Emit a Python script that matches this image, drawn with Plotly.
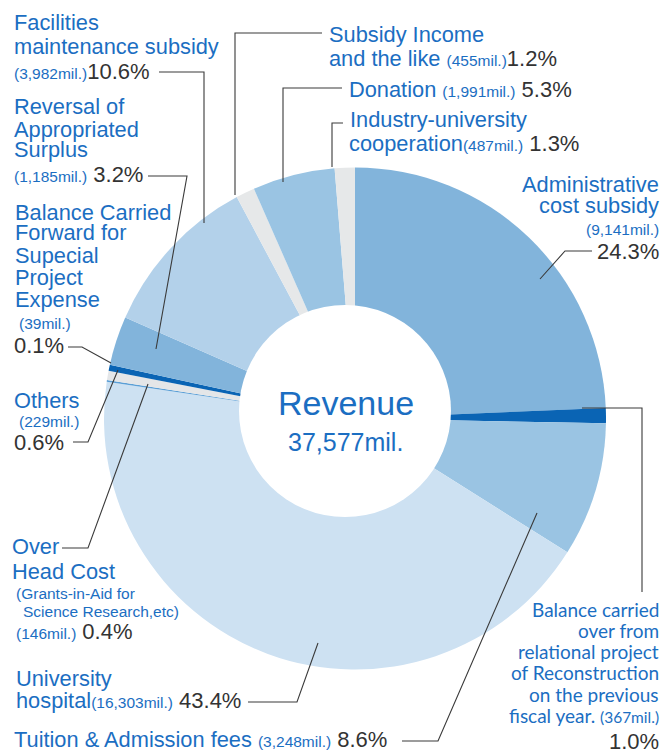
import plotly.graph_objects as go

W, H = 667, 751

# ---- data (clockwise from 12 o'clock) ----
categories = [
    "Administrative cost subsidy",
    "Balance carried over from relational project of Reconstruction on the previous fiscal year.",
    "Tuition & Admission fees",
    "University hospital",
    "Balance Carried Forward for Supecial Project Expense",
    "Others",
    "Over Head Cost",
    "Reversal of Appropriated Surplus",
    "Facilities maintenance subsidy",
    "Subsidy Income and the like",
    "Donation",
    "Industry-university cooperation",
]
values_mil = [9141, 367, 3248, 16303, 39, 229, 146, 1185, 3982, 455, 1991, 487]
percents = ["24.3%", "1.0%", "8.6%", "43.4%", "0.1%", "0.6%", "0.4%", "3.2%", "10.6%", "1.2%", "5.3%", "1.3%"]
total_label = "37,577mil."

slice_colors = ["#82b4db", "#0a64b4", "#9ac4e3", "#cde1f2", "#5b9fd6", "#e4e6e8",
                "#0a64b4", "#82b4db", "#b3d1ea", "#e6e8e9", "#9ac4e3", "#e6e8e9"]

BLUE = "#1b6ec2"
DARK = "#333333"
FONT = "Liberation Sans, Arial, sans-serif"

fig = go.Figure(go.Pie(
    labels=categories, values=values_mil, sort=False, direction="clockwise",
    rotation=0, hole=0, marker=dict(colors=slice_colors, line=dict(width=0)),
    textinfo="none", hoverinfo="label+value+percent", showlegend=False,
    domain=dict(x=[(355 - 251) / W, (355 + 251) / W],
                y=[1 - (418.5 + 251) / H, 1 - (418.5 - 251) / H]),
))


def px(x, y):
    return x / W, 1 - y / H


annotations = []


def SM(t):
    return f"<span style='font-size:15.5px'>{t}</span>"


def PC(t):
    return f"<span style='font-size:22px;color:{DARK}'>{t}</span>"


def T(x, y, text, anchor="left", size=21.8, family=FONT, color=BLUE):
    ax, ay = px(x, y)
    annotations.append(dict(x=ax, y=ay, xref="paper", yref="paper", text=text,
                            showarrow=False, xanchor=anchor, yanchor="middle",
                            align=anchor, font=dict(size=size, family=family, color=color)))


val = {c: f"({v:,}mil.)" for c, v in zip(categories, values_mil)}
pc = dict(zip(categories, percents))
c = categories

# left column
T(12, 22, "Facilities")
T(12, 46, "maintenance subsidy")
T(12, 71, SM(val[c[8]]) + PC(pc[c[8]]))
T(12, 106, "Reversal of")
T(12, 129, "Appropriated")
T(12, 150, "Surplus")
T(12, 175, SM(val[c[7]]) + " " + PC(pc[c[7]]))
T(13, 212, "Balance Carried")
T(13, 233, "Forward for")
T(13, 255, "Supecial")
T(13, 277, "Project")
T(13, 299, "Expense")
T(17, 323, SM(val[c[4]]))
T(12, 346, PC(pc[c[4]]))
T(12, 400, "Others")
T(17, 421, SM(val[c[5]]))
T(12, 442, PC(pc[c[5]]))
T(10, 546, "Over")
T(10, 571, "Head Cost")
T(14, 593, SM("(Grants-in-Aid for"))
T(21, 611, SM("Science Research,etc)"))
T(14, 631, SM(val[c[6]]) + " " + PC(pc[c[6]]))
T(14, 678, "University")
T(14, 700, "hospital" + SM(val[c[3]]) + " " + PC(pc[c[3]]))
T(12, 739, "Tuition &amp; Admission fees " + SM(val[c[2]]) + " " + PC(pc[c[2]]))

# top right
T(327, 34, "Subsidy Income")
T(327, 58, "and the like " + SM(val[c[9]]) + PC(pc[c[9]]))
T(347, 89, "Donation " + SM(val[c[10]]) + " " + PC(pc[c[10]]))
T(348, 120, "Industry-university")
T(347, 144, "cooperation" + SM(val[c[11]]) + " " + PC(pc[c[11]]))

# right
T(661, 184, "Administrative", anchor="right")
T(661, 205, "cost subsidy", anchor="right")
T(661, 229, SM(val[c[0]]), anchor="right")
T(661, 251, PC(pc[c[0]]), anchor="right")

RF = "Lato, Noto Sans, sans-serif"
rlines = ["Balance carried", "over from", "relational project", "of Reconstruction", "on the previous"]
rys = [609, 630, 651, 672, 694]
for t, y in zip(rlines, rys):
    T(661, y, t, anchor="right", size=19, family=RF)
T(661, 715, "fiscal year. " + SM(val[c[1]]), anchor="right", size=19, family=RF)
T(661, 741, PC(pc[c[1]]), anchor="right")

# centre
T(345.5, 403, "Revenue", anchor="center", size=34)
T(345, 442, total_label, anchor="center", size=25)

# leader lines (pixel paths)
leaders = [
    [(159, 72), (204, 72), (204, 223)],
    [(148, 176), (187, 176), (156, 349)],
    [(68, 347), (82, 347), (111, 363)],
    [(73, 442), (88, 442), (118, 370)],
    [(62, 548), (88, 548), (148, 384)],
    [(248, 702), (297, 702), (318, 643)],
    [(402, 741), (438, 741), (537, 513)],
    [(322, 33), (235, 33), (235, 195)],
    [(342, 88), (283, 88), (283, 182)],
    [(343, 123), (332, 123), (332, 167)],
    [(592, 251), (565, 251), (540, 279)],
    [(582, 408), (642, 408), (642, 592)],
]
shapes = []
# white centre
x0, y0 = px(239, 517)
x1, y1 = px(451, 305)
shapes.append(dict(type="circle", xref="paper", yref="paper", x0=x0, y0=y0, x1=x1, y1=y1,
                   fillcolor="white", line=dict(width=0), layer="above"))
for pts in leaders:
    d = "M " + " L ".join(f"{px(x, y)[0]:.5f},{px(x, y)[1]:.5f}" for x, y in pts)
    shapes.append(dict(type="path", xref="paper", yref="paper", path=d,
                       line=dict(color="#3a3a3a", width=1.1), layer="above"))

fig.update_layout(width=W, height=H, margin=dict(l=0, r=0, t=0, b=0),
                  paper_bgcolor="white", plot_bgcolor="white",
                  annotations=annotations, shapes=shapes)

fig.write_html("out.html", config={"displayModeBar": False},
               post_script="document.body.style.margin='0';document.body.style.overflow='hidden';")
